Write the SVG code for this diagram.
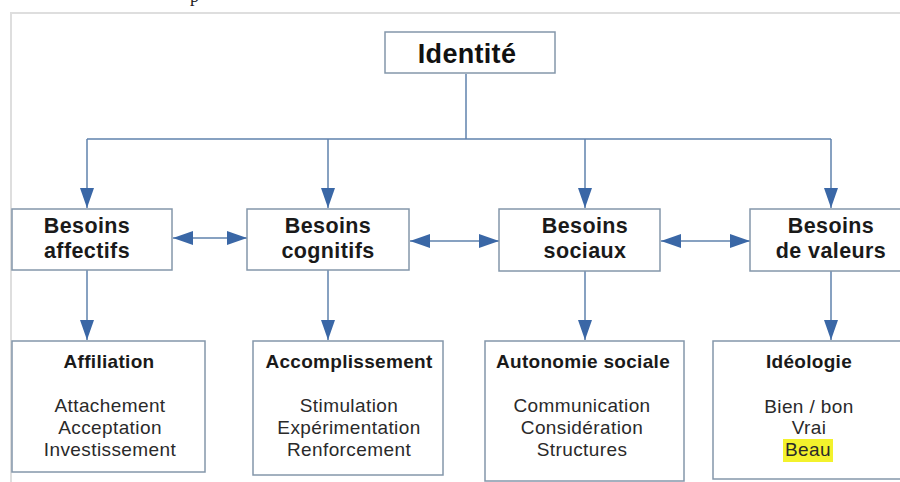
<svg xmlns="http://www.w3.org/2000/svg" width="900" height="482" viewBox="0 0 900 482">
<style>
.box{fill:#fff;stroke:#8497aa;stroke-width:1.5}
.con{fill:none;stroke:#5f82ad;stroke-width:1.5}
.t1{font-family:"Liberation Sans",Arial,sans-serif;font-weight:bold;font-size:27px;fill:#111;text-anchor:middle;letter-spacing:0.3px}
.t2{font-family:"Liberation Sans",Arial,sans-serif;font-weight:bold;font-size:21.5px;fill:#1a1a1a;text-anchor:middle;letter-spacing:0.4px}
.t3{font-family:"Liberation Sans",Arial,sans-serif;font-weight:bold;font-size:19px;fill:#1a1a1a;text-anchor:middle;letter-spacing:0.3px}
.t4{font-family:"Liberation Sans",Arial,sans-serif;font-size:19px;fill:#2a2a2a;text-anchor:middle;letter-spacing:0.4px}
</style>
<defs>
<marker id="ah" markerUnits="userSpaceOnUse" markerWidth="20" markerHeight="14" refX="20" refY="7" orient="auto-start-reverse">
<path d="M0,0 L20,7 L0,14 z" fill="#3a67a6"/>
</marker>
</defs>
<rect width="900" height="482" fill="#fff"/>
<path d="M11,482 V13 H900" fill="none" stroke="#dedede" stroke-width="2"/>
<text x="190" y="2" font-family="Liberation Serif,serif" font-size="18" fill="#222">p</text>
<g id="connectors">
<path class="con" d="M466,74 V139"/>
<path class="con" d="M87,139 H831"/>
<path class="con" d="M87,139 V208" marker-end="url(#ah)"/>
<path class="con" d="M328,139 V208" marker-end="url(#ah)"/>
<path class="con" d="M585,139 V208" marker-end="url(#ah)"/>
<path class="con" d="M831,139 V208" marker-end="url(#ah)"/>
<path class="con" d="M173,238 H247" marker-start="url(#ah)" marker-end="url(#ah)"/>
<path class="con" d="M410,241 H499" marker-start="url(#ah)" marker-end="url(#ah)"/>
<path class="con" d="M661,241 H750" marker-start="url(#ah)" marker-end="url(#ah)"/>
<path class="con" d="M87,270 V340" marker-end="url(#ah)"/>
<path class="con" d="M328,270 V340" marker-end="url(#ah)"/>
<path class="con" d="M585,271 V340" marker-end="url(#ah)"/>
<path class="con" d="M831,271 V340" marker-end="url(#ah)"/>
</g>
<g id="identite">
<rect class="box" x="385" y="32" width="170" height="41"/>
<text class="t1" x="467" y="63">Identité</text>
</g>
<g id="affectifs">
<rect class="box" x="12" y="209" width="160" height="61"/>
<text class="t2" x="87" y="233">Besoins</text>
<text class="t2" x="87" y="258">affectifs</text>
</g>
<g id="cognitifs">
<rect class="box" x="247" y="209" width="162" height="61"/>
<text class="t2" x="328" y="233">Besoins</text>
<text class="t2" x="328" y="258">cognitifs</text>
</g>
<g id="sociaux">
<rect class="box" x="499" y="209" width="161" height="62"/>
<text class="t2" x="585" y="233">Besoins</text>
<text class="t2" x="585" y="258">sociaux</text>
</g>
<g id="valeurs">
<rect class="box" x="750" y="209" width="165" height="62"/>
<text class="t2" x="831" y="233">Besoins</text>
<text class="t2" x="831" y="258">de valeurs</text>
</g>
<g id="affiliation">
<rect class="box" x="12" y="341" width="193" height="131"/>
<text class="t3" x="109" y="368">Affiliation</text>
<text class="t4" x="110" y="412">Attachement</text>
<text class="t4" x="110" y="434">Acceptation</text>
<text class="t4" x="110" y="456">Investissement</text>
</g>
<g id="accomplissement">
<rect class="box" x="253" y="341" width="190" height="134"/>
<text class="t3" x="349" y="368">Accomplissement</text>
<text class="t4" x="349" y="412">Stimulation</text>
<text class="t4" x="349" y="434">Expérimentation</text>
<text class="t4" x="349" y="456">Renforcement</text>
</g>
<g id="autonomie">
<rect class="box" x="485" y="341" width="199" height="140"/>
<text class="t3" x="583" y="368">Autonomie sociale</text>
<text class="t4" x="582" y="412">Communication</text>
<text class="t4" x="582" y="434">Considération</text>
<text class="t4" x="582" y="456">Structures</text>
</g>
<g id="ideologie">
<rect class="box" x="713" y="341" width="195" height="138"/>
<text class="t3" x="809" y="368">Idéologie</text>
<text class="t4" x="809" y="413">Bien / bon</text>
<text class="t4" x="809" y="434">Vrai</text>
<rect x="783" y="439" width="50" height="23" fill="#f3f22c"/>
<text class="t4" x="808" y="456">Beau</text>
</g>
</svg>
